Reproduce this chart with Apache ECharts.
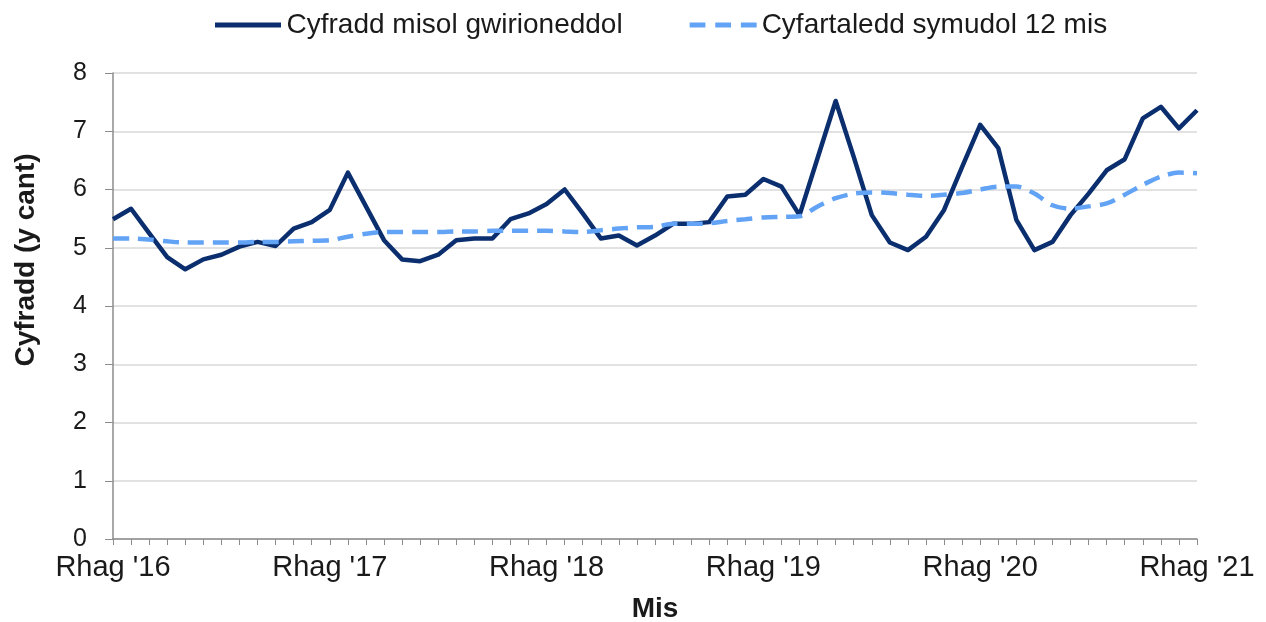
<!DOCTYPE html>
<html><head><meta charset="utf-8">
<script src="https://cdn.jsdelivr.net/npm/echarts@6/dist/echarts.min.js"></script>
<style>html,body{margin:0;padding:0;background:#fff}#c{width:1266px;height:622px}</style>
</head><body><div id="c"></div>
<script>
const monthNames = ['Ion','Chwe','Maw','Ebr','Mai','Meh','Gorff','Awst','Medi','Hyd','Tach','Rhag'];
const startYear = 2016, startMonth = 11; // Rhag '16
const monthCount = 61;
const categories = [];
for (let i = 0; i < monthCount; i++) {
  const m = (startMonth + i) % 12;
  const y = startYear + Math.floor((startMonth + i) / 12);
  categories.push(monthNames[m] + " '" + String(y).slice(2));
}
const monthlyRate = [
  5.49, 5.67, 5.25, 4.84, 4.63, 4.80, 4.88, 5.02, 5.10, 5.03,
  5.33, 5.44, 5.65, 6.29, 5.71, 5.13, 4.80, 4.77, 4.88, 5.13,
  5.16, 5.16, 5.49, 5.59, 5.75, 6.00, 5.59, 5.16, 5.21, 5.04,
  5.21, 5.41, 5.41, 5.44, 5.88, 5.91, 6.18, 6.05, 5.56, 6.54,
  7.52, 6.56, 5.56, 5.09, 4.96, 5.19, 5.65, 6.39, 7.11, 6.71,
  5.48, 4.96, 5.10, 5.56, 5.93, 6.33, 6.52, 7.22, 7.42, 7.05, 7.36
];
const movingAvg = [
  5.16, 5.16, 5.14, 5.11, 5.09, 5.09, 5.09, 5.09, 5.10, 5.10,
  5.11, 5.12, 5.13, 5.19, 5.24, 5.27, 5.27, 5.27, 5.27, 5.28,
  5.28, 5.29, 5.29, 5.29, 5.29, 5.28, 5.27, 5.30, 5.33, 5.35,
  5.36, 5.41, 5.41, 5.42, 5.46, 5.49, 5.52, 5.53, 5.54, 5.71,
  5.85, 5.93, 5.95, 5.94, 5.91, 5.89, 5.91, 5.94, 6.00, 6.05,
  6.05, 5.93, 5.73, 5.67, 5.71, 5.76, 5.91, 6.08, 6.22, 6.29, 6.28
];
const yTicks = [0,1,2,3,4,5,6,7,8];
const seriesNames = ['Cyfradd misol gwirioneddol', 'Cyfartaledd symudol 12 mis'];

const navy = '#0b2f6e', light = '#62a3f6';
const chart = echarts.init(document.getElementById('c'), null, {renderer: 'canvas'});
const font = 'Liberation Sans, Arial, sans-serif';
chart.setOption({
  animation: false,
  backgroundColor: '#ffffff',
  textStyle: {fontFamily: font},
  legend: {
    top: 6, left: 210,
    itemGap: 67,
    textStyle: {fontSize: 28, color: '#1a1a1a', fontFamily: font},
    data: [
      {name: seriesNames[0], icon: 'path://M0,0H66V5H0Z', itemStyle: {color: navy}},
      {name: seriesNames[1], icon: 'path://M0,0H16V5H0Z M26,0H42V5H26Z M52,0H68V5H52Z', itemStyle: {color: light}}
    ],
    itemWidth: 67, itemHeight: 5
  },
  grid: {left: 113, right: 69, top: 73, bottom: 83, containLabel: false, outerBoundsMode: 'none'},
  xAxis: {
    type: 'category', data: categories, boundaryGap: false,
    name: 'Mis', nameLocation: 'middle', nameGap: 56,
    nameTextStyle: {fontSize: 28, fontWeight: 'bold', color: '#1a1a1a', fontFamily: font},
    axisLine: {lineStyle: {color: '#8c8c8c', width: 1.5}},
    axisTick: {show: true, interval: 0, length: 6, lineStyle: {color: '#8c8c8c'}},
    axisLabel: {interval: 11, fontSize: 29, color: '#1a1a1a', margin: 14, fontFamily: font},
    splitLine: {show: false}
  },
  yAxis: {
    type: 'value', min: yTicks[0], max: yTicks[yTicks.length-1], interval: 1,
    name: 'Cyfradd (y cant)', nameLocation: 'middle', nameGap: 73, nameRotate: 90,
    nameTextStyle: {fontSize: 28, fontWeight: 'bold', color: '#1a1a1a', fontFamily: font, padding: [0,0,0,92]},
    axisLine: {show: true, lineStyle: {color: '#8c8c8c', width: 1.5}},
    axisTick: {show: true, length: 8, lineStyle: {color: '#8c8c8c'}},
    axisLabel: {fontSize: 25, color: '#1a1a1a', margin: 26, fontFamily: font},
    splitLine: {lineStyle: {color: '#d9d9d9', width: 1.5}}
  },
  series: [
    {name: seriesNames[0], type: 'line', data: monthlyRate, symbol: 'none',
     lineStyle: {color: navy, width: 4.5, join: 'round'}, itemStyle: {color: navy}, z: 2},
    {name: seriesNames[1], type: 'line', data: movingAvg, symbol: 'none', smooth: 0.3,
     lineStyle: {color: light, width: 4.5, type: [16, 9]}, itemStyle: {color: light}, z: 3}
  ]
});
</script></body></html>
